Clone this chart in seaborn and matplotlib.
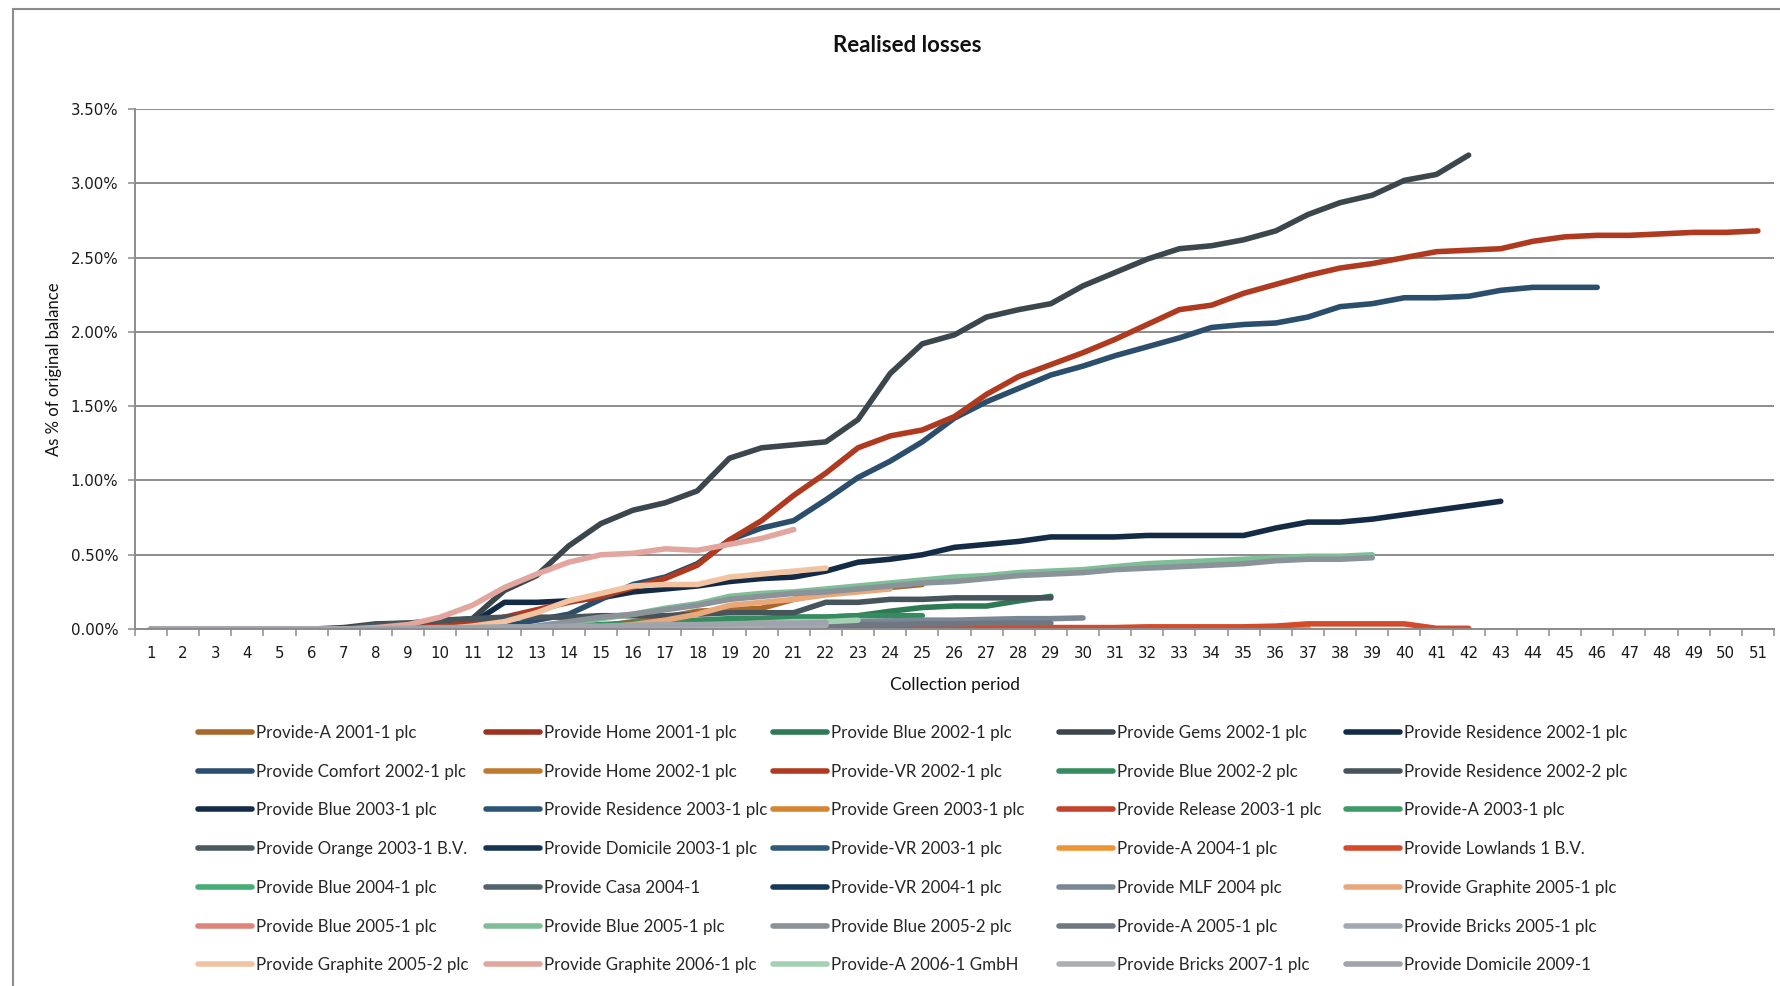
import matplotlib
matplotlib.use("Agg")
import matplotlib.pyplot as plt
from matplotlib.lines import Line2D
from matplotlib.ticker import FixedLocator, FuncFormatter
import pandas as pd
import seaborn as sns

# Realised losses, % of original balance, per collection period

provide_a_2001_1 = [0, 0, 0, 0, 0, 0, 0, 0, 0, 0, 0, 0, 0, 0, 0.02, 0.05, 0.08, 0.12,
                    0.13, 0.14, 0.20, 0.24, 0.26, 0.28, 0.30]
home_2001_1 = [0, 0, 0, 0, 0, 0, 0, 0, 0, 0, 0, 0, 0, 0, 0, 0, 0, 0, 0, 0, 0, 0, 0,
               0, 0, 0, 0, 0, 0, 0]
blue_2002_1 = [0, 0, 0, 0, 0, 0, 0, 0, 0, 0, 0, 0, 0, 0.01, 0.02, 0.03, 0.04, 0.05,
               0.06, 0.07, 0.08, 0.08, 0.09, 0.12, 0.145, 0.155, 0.155, 0.19, 0.22]
gems_2002_1 = [0, 0, 0, 0, 0, 0, 0.01, 0.035, 0.04, 0.05, 0.07, 0.26, 0.36, 0.56,
               0.71, 0.80, 0.85, 0.93, 1.15, 1.22, 1.24, 1.26, 1.41, 1.72, 1.92, 1.98,
               2.10, 2.15, 2.19, 2.31, 2.40, 2.49, 2.56, 2.58, 2.62, 2.68, 2.79, 2.87,
               2.92, 3.02, 3.06, 3.19]
residence_2002_1 = [0, 0, 0, 0, 0, 0, 0, 0, 0, 0.01, 0.04, 0.18, 0.18, 0.19, 0.21,
                    0.25, 0.27, 0.29, 0.32, 0.34, 0.35, 0.39, 0.45, 0.47, 0.50, 0.55,
                    0.57, 0.59, 0.62, 0.62, 0.62, 0.63, 0.63, 0.63, 0.63, 0.68, 0.72,
                    0.72, 0.74, 0.77, 0.80, 0.83, 0.86]
comfort_2002_1 = [0, 0, 0, 0, 0, 0, 0, 0, 0, 0, 0.01, 0.02, 0.06, 0.10, 0.20, 0.30,
                  0.35, 0.44, 0.60, 0.68, 0.73, 0.87, 1.02, 1.13, 1.26, 1.42, 1.53,
                  1.62, 1.71, 1.77, 1.84, 1.90, 1.96, 2.03, 2.05, 2.06, 2.10, 2.17,
                  2.19, 2.23, 2.23, 2.24, 2.28, 2.30, 2.30, 2.30]
home_2002_1 = [0, 0, 0, 0, 0, 0, 0, 0, 0, 0, 0, 0, 0, 0, 0, 0, 0, 0, 0, 0, 0, 0, 0,
               0, 0, 0, 0, 0]
vr_2002_1 = [0, 0, 0, 0, 0, 0, 0, 0.01, 0.01, 0.02, 0.04, 0.08, 0.13, 0.18, 0.22,
             0.28, 0.34, 0.43, 0.60, 0.73, 0.90, 1.05, 1.22, 1.30, 1.34, 1.43, 1.58,
             1.70, 1.78, 1.86, 1.95, 2.05, 2.15, 2.18, 2.26, 2.32, 2.38, 2.43, 2.46,
             2.50, 2.54, 2.55, 2.56, 2.61, 2.64, 2.65, 2.65, 2.66, 2.67, 2.67, 2.68]
blue_2002_2 = [0, 0, 0, 0, 0, 0, 0, 0, 0, 0, 0, 0, 0.01, 0.02, 0.03, 0.04, 0.05,
               0.06, 0.07, 0.07, 0.08, 0.08, 0.09, 0.09, 0.09]
residence_2002_2 = [0, 0, 0, 0, 0, 0, 0, 0.03, 0.04, 0.06, 0.07, 0.08, 0.08, 0.08,
                    0.09, 0.09, 0.09, 0.10, 0.11, 0.11, 0.11, 0.18, 0.18, 0.20, 0.20,
                    0.21, 0.21, 0.21, 0.21]
blue_2003_1 = [0, 0, 0, 0, 0, 0, 0, 0, 0, 0, 0, 0, 0, 0, 0, 0, 0, 0, 0, 0, 0, 0,
               0, 0, 0, 0, 0]
residence_2003_1 = [0, 0, 0, 0, 0, 0, 0, 0, 0, 0, 0, 0, 0, 0, 0, 0, 0, 0, 0, 0, 0,
                    0, 0, 0, 0, 0]
green_2003_1 = [0, 0, 0, 0, 0, 0, 0, 0, 0, 0, 0, 0, 0, 0, 0, 0, 0, 0, 0, 0, 0, 0,
                0, 0, 0, 0]
release_2003_1 = [0, 0, 0, 0, 0, 0, 0, 0, 0, 0, 0, 0, 0, 0, 0, 0, 0, 0, 0, 0, 0, 0,
                  0, 0, 0, 0, 0, 0, 0, 0, 0, 0, 0, 0, 0]
provide_a_2003_1 = [0, 0, 0, 0, 0, 0, 0, 0, 0, 0, 0, 0, 0, 0, 0, 0, 0, 0, 0, 0, 0,
                    0, 0, 0, 0]
orange_2003_1 = [0, 0, 0, 0, 0, 0, 0, 0, 0, 0, 0, 0, 0, 0, 0, 0, 0, 0, 0, 0, 0, 0,
                 0, 0, 0]
domicile_2003_1 = [0, 0, 0, 0, 0, 0, 0, 0, 0, 0, 0, 0, 0, 0, 0, 0, 0, 0, 0, 0, 0,
                   0, 0, 0]
vr_2003_1 = [0, 0, 0, 0, 0, 0, 0, 0, 0, 0, 0, 0, 0, 0, 0, 0, 0, 0, 0, 0, 0, 0, 0, 0]
provide_a_2004_1 = [0, 0, 0, 0, 0, 0, 0, 0, 0, 0, 0, 0, 0, 0, 0, 0, 0, 0, 0, 0, 0,
                    0, 0, 0, 0.005, 0.005, 0.005, 0.005, 0.005, 0.005, 0.005, 0.005,
                    0.005, 0.005, 0.005, 0.005, 0.005]
lowlands_1 = [0, 0, 0, 0, 0, 0, 0, 0, 0, 0, 0, 0, 0, 0, 0, 0, 0, 0, 0, 0, 0.005,
              0.005, 0.01, 0.01, 0.01, 0.01, 0.01, 0.01, 0.01, 0.01, 0.01, 0.015,
              0.015, 0.015, 0.015, 0.02, 0.035, 0.035, 0.035, 0.035, 0.005, 0.005]
blue_2004_1 = [0, 0, 0, 0, 0, 0, 0, 0, 0, 0, 0, 0, 0, 0, 0, 0, 0, 0, 0, 0, 0]
casa_2004_1 = [0, 0, 0, 0, 0, 0, 0, 0, 0, 0, 0, 0, 0, 0, 0, 0, 0, 0, 0, 0, 0]
vr_2004_1 = [0, 0, 0, 0, 0, 0, 0, 0, 0, 0, 0, 0, 0, 0, 0, 0, 0, 0, 0, 0]
mlf_2004 = [0, 0, 0, 0, 0, 0, 0, 0, 0, 0, 0, 0, 0, 0, 0.005, 0.01, 0.015, 0.02,
            0.025, 0.03, 0.035, 0.04, 0.05, 0.055, 0.06, 0.06, 0.065, 0.07, 0.07,
            0.075]
graphite_2005_1 = [0, 0, 0, 0, 0, 0, 0, 0, 0, 0, 0, 0, 0, 0, 0.01, 0.03, 0.06,
                   0.10, 0.16, 0.18, 0.20, 0.23, 0.25, 0.27]
blue_2005_1_a = [0, 0, 0, 0, 0, 0, 0, 0, 0, 0, 0, 0, 0, 0, 0, 0, 0, 0, 0]
blue_2005_1_b = [0, 0, 0, 0, 0, 0, 0, 0, 0, 0, 0, 0, 0.01, 0.04, 0.07, 0.10, 0.14,
                 0.17, 0.22, 0.24, 0.25, 0.27, 0.29, 0.31, 0.33, 0.35, 0.36, 0.38,
                 0.39, 0.40, 0.42, 0.44, 0.45, 0.46, 0.47, 0.48, 0.49, 0.49, 0.50]
blue_2005_2 = [0, 0, 0, 0, 0, 0, 0, 0, 0, 0, 0, 0, 0.02, 0.05, 0.08, 0.10, 0.13,
               0.16, 0.20, 0.22, 0.24, 0.25, 0.27, 0.29, 0.31, 0.32, 0.34, 0.36,
               0.37, 0.38, 0.40, 0.41, 0.42, 0.43, 0.44, 0.46, 0.47, 0.47, 0.48]
provide_a_2005_1 = [0, 0, 0, 0, 0, 0, 0, 0, 0, 0, 0, 0, 0, 0, 0, 0.005, 0.01, 0.01,
                    0.015, 0.02, 0.02, 0.025, 0.03, 0.03, 0.035, 0.035, 0.04, 0.04,
                    0.04]
bricks_2005_1 = [0, 0, 0, 0, 0, 0, 0, 0, 0, 0, 0, 0, 0, 0, 0.005, 0.005, 0.01,
                 0.01, 0.015, 0.02, 0.02, 0.025]
graphite_2005_2 = [0, 0, 0, 0, 0, 0, 0, 0, 0, 0, 0.02, 0.05, 0.11, 0.19, 0.24,
                   0.29, 0.30, 0.30, 0.35, 0.37, 0.39, 0.41]
graphite_2006_1 = [0, 0, 0, 0, 0, 0, 0, 0.01, 0.03, 0.08, 0.16, 0.28, 0.37, 0.45,
                   0.50, 0.51, 0.54, 0.53, 0.57, 0.61, 0.67]
provide_a_2006_1 = [0, 0, 0, 0, 0, 0, 0, 0, 0, 0, 0, 0, 0, 0, 0.01, 0.01, 0.015,
                    0.02, 0.03, 0.04, 0.05, 0.05, 0.06]
bricks_2007_1 = [0, 0, 0, 0, 0, 0, 0, 0, 0, 0, 0, 0, 0, 0, 0, 0, 0, 0, 0, 0]
domicile_2009_1 = [0, 0, 0, 0, 0, 0, 0, 0, 0.005, 0.01, 0.01, 0.015, 0.015, 0.02,
                   0.02, 0.025, 0.03, 0.03, 0.035, 0.04, 0.04, 0.045]

labels = [
    "Provide-A 2001-1 plc", "Provide Home 2001-1 plc", "Provide Blue 2002-1 plc",
    "Provide Gems 2002-1 plc", "Provide Residence 2002-1 plc",
    "Provide Comfort 2002-1 plc", "Provide Home 2002-1 plc", "Provide-VR 2002-1 plc",
    "Provide Blue 2002-2 plc", "Provide Residence 2002-2 plc",
    "Provide Blue 2003-1 plc", "Provide Residence 2003-1 plc",
    "Provide Green 2003-1 plc", "Provide Release 2003-1 plc", "Provide-A 2003-1 plc",
    "Provide Orange 2003-1 B.V.", "Provide Domicile 2003-1 plc",
    "Provide-VR 2003-1 plc", "Provide-A 2004-1 plc", "Provide Lowlands 1 B.V.",
    "Provide Blue 2004-1 plc", "Provide Casa 2004-1", "Provide-VR 2004-1 plc",
    "Provide MLF 2004 plc", "Provide Graphite 2005-1 plc",
    "Provide Blue 2005-1 plc", "Provide Blue 2005-1 plc", "Provide Blue 2005-2 plc",
    "Provide-A 2005-1 plc", "Provide Bricks 2005-1 plc",
    "Provide Graphite 2005-2 plc", "Provide Graphite 2006-1 plc",
    "Provide-A 2006-1 GmbH", "Provide Bricks 2007-1 plc", "Provide Domicile 2009-1",
]

values = [
    provide_a_2001_1, home_2001_1, blue_2002_1, gems_2002_1, residence_2002_1,
    comfort_2002_1, home_2002_1, vr_2002_1, blue_2002_2, residence_2002_2,
    blue_2003_1, residence_2003_1, green_2003_1, release_2003_1, provide_a_2003_1,
    orange_2003_1, domicile_2003_1, vr_2003_1, provide_a_2004_1, lowlands_1,
    blue_2004_1, casa_2004_1, vr_2004_1, mlf_2004, graphite_2005_1,
    blue_2005_1_a, blue_2005_1_b, blue_2005_2, provide_a_2005_1, bricks_2005_1,
    graphite_2005_2, graphite_2006_1, provide_a_2006_1, bricks_2007_1, domicile_2009_1,
]

colors = [
    "#a8682a", "#9c321f", "#2e7a55", "#3c474d", "#132b45",
    "#2b4e6c", "#c07a30", "#b03a20", "#358c5e", "#46545b",
    "#142c47", "#2d5576", "#d6852f", "#c4432a", "#3e9a67",
    "#4b5960", "#153553", "#2f5a7c", "#ee9536", "#d54a2b",
    "#47ad77", "#54646e", "#183a5a", "#7a8896", "#eaa77a",
    "#e0837b", "#7fbf98", "#8a9399", "#6e7782", "#a2a9b2",
    "#f2c3a0", "#e2a69e", "#a6d0b4", "#adb0b3", "#9fa3ac",
]

n_periods = 51

# long table for seaborn
rows = []
for i, vals in enumerate(values):
    for p, v in enumerate(vals, start=1):
        rows.append({"sid": f"s{i:02d}", "period": p, "value": v})
df = pd.DataFrame(rows)
sid_order = [f"s{i:02d}" for i in range(len(values))]
palette = dict(zip(sid_order, colors))

sns.set_theme(style="white")
plt.rcParams["font.family"] = ["Lato", "DejaVu Sans"]

fig = plt.figure(figsize=(17.8, 9.86), dpi=100)
ax = fig.add_axes([0.0758, 0.362, 0.9208, 0.5274])

LW = 4.0
sns.lineplot(data=df, x="period", y="value", hue="sid", hue_order=sid_order,
             palette=palette, linewidth=LW, estimator=None, sort=False,
             legend=False, ax=ax, solid_capstyle="round", solid_joinstyle="round")

grid_c = "#8c8c8c"
ax.set_xlim(0.5, n_periods + 0.5)
ax.set_ylim(0, 3.5)
ax.set_yticks([0, 0.5, 1.0, 1.5, 2.0, 2.5, 3.0, 3.5])
ax.yaxis.set_major_formatter(FuncFormatter(lambda v, _: f"{v:.2f}%"))
ax.set_xticks(range(1, n_periods + 1))
ax.xaxis.set_minor_locator(FixedLocator([k + 0.5 for k in range(0, n_periods + 1)]))
ax.grid(axis="y", color=grid_c, linewidth=1.4)
ax.set_axisbelow(True)
ax.tick_params(axis="x", which="major", length=0, pad=12, labelsize=10.8,
               labelfontfamily="DejaVu Sans", colors="#1a1a1a")
ax.tick_params(axis="x", which="minor", length=5, width=1.1, color=grid_c,
               bottom=True, direction="out")
ax.tick_params(axis="y", which="major", length=5, width=1.1, color=grid_c,
               left=True, direction="out", pad=7, labelsize=10.8,
               labelfontfamily="DejaVu Sans", labelcolor="#1a1a1a")
for side in ["top", "right"]:
    ax.spines[side].set_visible(False)
for side in ["left", "bottom"]:
    ax.spines[side].set_color(grid_c)
    ax.spines[side].set_linewidth(1.4)
ax.set_xlabel("")
ax.set_ylabel("")

fig.text(0.5096, 0.9535, "Realised losses", ha="center", va="center",
         fontsize=16, fontweight="bold", color="#111111")
fig.text(0.0305, 0.6258, "As % of original balance", ha="center", va="center",
         rotation=90, fontsize=12, color="#111111")
fig.text(0.5365, 0.3053, "Collection period", ha="center", va="center",
         fontsize=12.4, color="#111111")

# outer chart frame (left and top edges visible in the crop)
fig.add_artist(Line2D([13 / 1780, 13 / 1780], [0, 1 - 9 / 986], color=grid_c,
                      linewidth=1.5, transform=fig.transFigure))
fig.add_artist(Line2D([13 / 1780, 1], [1 - 9 / 986, 1 - 9 / 986], color=grid_c,
                      linewidth=1.5, transform=fig.transFigure))

# legend: 5 evenly spaced columns, filled row by row
col_x = [198, 486, 773, 1059, 1346]
for c, x0 in enumerate(col_x):
    idx = [r * 5 + c for r in range(7)]
    handles = [Line2D([0], [0], color=colors[i], linewidth=LW, solid_capstyle="round")
               for i in idx]
    fig.legend(handles, [labels[i] for i in idx], loc="upper left",
               bbox_to_anchor=(x0 / 1780, 1 - 725 / 986), frameon=False,
               fontsize=12.2, handlelength=3.2, handletextpad=0.2,
               labelspacing=1.34, borderpad=0, borderaxespad=0)

fig.savefig("out.png", dpi=100)
